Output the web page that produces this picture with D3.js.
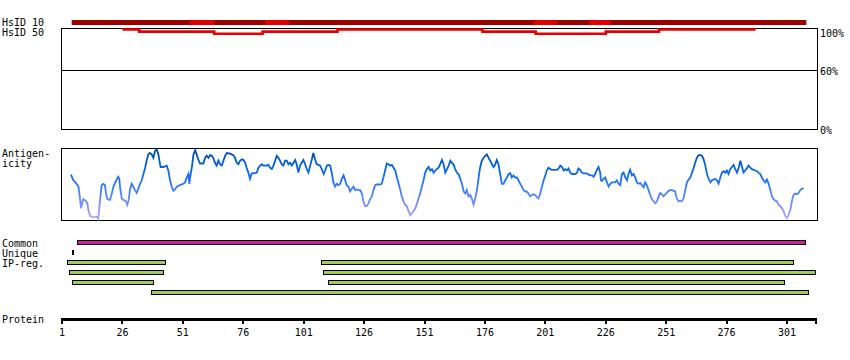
<!DOCTYPE html>
<html><head><meta charset="utf-8">
<script src="https://cdn.jsdelivr.net/npm/d3@7"></script>
<style>
body{margin:0;background:#fff}
svg{display:block}
text{font-family:"DejaVu Sans Mono",monospace;font-size:10px;fill:#000}
</style>
</head><body>
<svg id="chart" width="850" height="360"></svg>
<script>
// ---------------- data ----------------
const proteinLength = 313;
const tickValues = [1, 26, 51, 76, 101, 126, 151, 176, 201, 226, 251, 276, 301];

const hsid10Range = [5, 309];
const hsid10Bright = [[54, 64], [85, 95], [196, 206], [219, 228]];

const hsid50Start = [26, 33, 64, 84, 115, 175, 197, 226, 248];
const hsid50End   = [33, 64, 84, 115, 175, 197, 226, 248, 288];
const hsid50Pct   = [100, 98, 96, 98, 100, 98, 96, 98, 100];

const pctTicks  = [100, 60, 0];
const pctLabels = ["100%", "60%", "0%"];

const antigenRes = [4.7,5.7,6.8,7.8,8.2,8.5,8.9,9.3,9.8,10.7,11.5,11.9,12.6,14.0,15.4,16.0,16.5,17.0,17.4,18.1,18.8,19.2,19.8,20.9,21.6,22.3,22.9,23.6,24.3,24.7,25.0,25.7,26.4,27.5,28.0,28.6,29.1,29.8,30.5,31.2,31.9,32.6,33.3,34.0,34.7,35.4,36.0,36.7,37.4,38.1,38.8,39.5,40.2,40.9,41.3,41.8,42.9,44.3,45.0,45.7,46.4,47.1,47.8,48.5,49.8,51.2,51.9,52.6,53.3,53.7,54.0,54.7,55.1,55.4,56.1,56.7,57.4,58.1,59.5,60.2,60.9,61.6,62.3,63.0,63.6,64.3,65.0,65.7,66.4,67.1,67.8,68.5,69.2,70.5,71.9,72.6,73.3,74.0,74.7,75.4,76.1,76.8,77.4,78.1,78.8,79.5,80.2,81.6,82.3,83.0,83.7,84.3,85.7,86.4,87.1,87.8,88.5,89.2,89.9,90.6,91.2,91.9,92.6,93.3,94.0,94.7,95.4,96.1,96.8,97.5,98.1,98.8,99.5,
100.2,100.9,101.6,102.3,103.0,103.7,104.4,105.0,105.7,106.4,107.1,107.8,108.5,109.3,109.9,110.6,111.3,112.0,112.6,113.3,114.0,114.7,115.4,116.1,116.8,117.5,118.2,118.8,119.5,120.2,120.9,121.6,122.3,123.0,123.7,124.4,125.1,125.7,126.4,127.1,127.8,128.5,129.2,129.9,130.6,131.3,132.6,133.3,134.0,134.7,135.4,136.1,136.8,137.5,138.2,138.9,139.6,140.3,141.0,141.6,142.3,143.0,143.7,144.4,145.1,145.8,146.5,147.2,147.9,148.5,149.2,149.9,150.6,151.3,152.0,152.7,153.4,154.1,154.8,155.4,156.1,156.8,157.5,158.2,158.9,159.6,160.3,161.0,161.7,162.3,163.0,163.7,164.4,165.1,165.8,166.5,167.2,167.9,168.5,169.2,169.9,170.6,171.3,172.0,172.7,173.4,174.0,174.7,175.4,176.1,176.8,177.5,178.2,178.9,179.6,180.2,180.9,181.6,182.3,183.0,183.7,184.4,185.1,185.8,186.5,187.1,187.8,188.5,189.2,189.9,190.6,191.3,192.0,192.7,193.3,194.0,194.7,195.4,196.1,196.8,197.5,198.2,198.9,
199.6,200.3,201.0,201.6,202.3,203.0,203.7,205.1,205.8,206.5,207.2,207.9,208.6,209.3,209.9,210.6,211.3,212.0,213.4,214.1,214.7,215.4,216.1,216.8,218.2,218.9,219.6,220.3,221.0,221.6,222.3,223.0,223.7,224.0,224.4,225.1,225.8,226.5,227.2,227.9,228.5,229.9,230.6,231.3,232.0,232.7,233.4,234.1,234.8,235.4,236.1,236.8,237.5,238.2,238.9,239.6,240.3,241.0,241.7,242.3,243.0,243.7,244.4,245.1,245.8,246.5,247.2,247.9,248.5,249.2,249.9,250.6,251.3,252.0,252.7,253.4,254.1,254.7,255.4,256.1,256.8,257.5,258.2,258.9,259.6,260.3,261.0,261.7,262.4,263.0,263.7,264.4,265.1,265.8,266.5,267.2,267.9,268.6,269.3,269.9,270.6,271.3,272.0,272.7,273.4,274.1,274.8,275.5,276.1,276.8,277.5,278.2,278.9,279.6,280.3,281.0,281.7,282.4,283.0,283.7,284.4,285.1,285.8,286.5,287.2,287.9,288.6,289.2,289.9,290.6,291.3,292.0,292.7,293.4,294.1,294.8,295.4,296.1,296.8,297.5,298.2,298.9,299.6,300.3,301.0,301.7,302.4,303.0,303.7,304.4,305.1,305.8,306.5,307.2,307.9];

const antigenVal = [0.64,0.56,0.52,0.47,0.37,0.28,0.16,0.23,0.29,0.27,0.23,0.14,0.05,0.03,0.04,0.01,0.19,0.37,0.49,0.51,0.49,0.37,0.29,0.28,0.37,0.47,0.52,0.57,0.61,0.58,0.47,0.30,0.28,0.26,0.21,0.28,0.42,0.51,0.47,0.42,0.38,0.44,0.51,0.56,0.65,0.74,0.84,0.93,0.95,0.93,0.88,0.98,1.00,0.93,0.84,0.75,0.75,0.77,0.70,0.56,0.47,0.41,0.43,0.47,0.49,0.51,0.53,0.60,0.65,0.51,0.60,0.74,0.84,0.93,0.99,0.93,0.86,0.80,0.80,0.88,0.91,0.88,0.92,0.91,0.88,0.81,0.77,0.84,0.79,0.77,0.84,0.91,0.95,0.94,0.92,0.88,0.81,0.79,0.84,0.86,0.85,0.81,0.74,0.67,0.58,0.66,0.66,0.67,0.74,0.77,0.79,0.77,0.77,0.78,0.74,0.72,0.77,0.84,0.91,0.88,0.84,0.79,0.77,0.84,0.84,0.79,0.81,0.77,0.81,0.85,0.79,0.67,0.77,
0.81,0.85,0.79,0.72,0.67,0.77,0.86,0.95,0.86,0.79,0.78,0.77,0.72,0.65,0.70,0.77,0.78,0.77,0.67,0.53,0.47,0.51,0.49,0.51,0.58,0.63,0.56,0.49,0.47,0.40,0.44,0.47,0.42,0.43,0.42,0.42,0.37,0.26,0.19,0.19,0.23,0.29,0.33,0.42,0.49,0.50,0.50,0.51,0.60,0.70,0.80,0.79,0.77,0.78,0.74,0.70,0.60,0.51,0.42,0.33,0.26,0.21,0.19,0.12,0.06,0.09,0.12,0.16,0.23,0.30,0.37,0.47,0.56,0.67,0.72,0.75,0.70,0.72,0.67,0.70,0.72,0.74,0.79,0.85,0.79,0.67,0.72,0.77,0.84,0.81,0.79,0.72,0.67,0.65,0.58,0.51,0.40,0.37,0.42,0.33,0.35,0.30,0.21,0.30,0.42,0.60,0.74,0.84,0.88,0.91,0.93,0.88,0.84,0.79,0.75,0.78,0.85,0.79,0.65,0.51,0.51,0.56,0.60,0.65,0.66,0.60,0.63,0.60,0.60,0.56,0.51,0.47,0.42,0.40,0.40,0.37,0.33,0.35,0.36,0.35,0.32,0.30,0.37,
0.47,0.56,0.63,0.70,0.74,0.72,0.71,0.71,0.71,0.73,0.77,0.75,0.70,0.72,0.70,0.73,0.67,0.65,0.65,0.67,0.73,0.71,0.67,0.66,0.66,0.64,0.63,0.63,0.61,0.65,0.71,0.75,0.67,0.56,0.55,0.58,0.60,0.53,0.47,0.51,0.53,0.53,0.56,0.51,0.49,0.65,0.67,0.60,0.56,0.65,0.71,0.63,0.65,0.60,0.53,0.51,0.52,0.49,0.46,0.53,0.49,0.42,0.35,0.29,0.26,0.23,0.26,0.33,0.38,0.36,0.33,0.36,0.38,0.41,0.42,0.42,0.41,0.40,0.30,0.26,0.27,0.26,0.30,0.42,0.53,0.57,0.60,0.67,0.74,0.81,0.88,0.92,0.92,0.91,0.86,0.77,0.65,0.58,0.53,0.56,0.57,0.58,0.56,0.51,0.60,0.67,0.69,0.67,0.70,0.65,0.72,0.75,0.78,0.72,0.67,0.74,0.84,0.75,0.67,0.70,0.73,0.77,0.74,0.72,0.71,0.70,0.69,0.67,0.65,0.60,0.56,0.53,0.57,0.51,0.42,0.33,0.29,0.27,0.26,0.21,0.19,0.16,0.12,0.05,0.02,0.07,0.14,0.26,0.35,0.37,0.36,0.38,0.42,0.44,0.44];

const commonRegions = [[7, 309]];
const uniqueRegions = [[5, 6]];
const ipRegionRows = [
  [[3, 44], [108, 304]],
  [[4, 43], [109, 313]],
  [[5, 39], [111, 300]],
  [[38, 310]]
];

const trackNames = ["Common", "Unique", "IP1", "IP2", "IP3", "IP4"];

// ---------------- scales ----------------
const svg = d3.select("#chart");
const x = d3.scaleLinear().domain([1, 301]).range([62, 787]);
const pct = d3.scaleLinear().domain([0, 60, 100]).range([129.5, 70.5, 28.5]);
const ag = d3.scaleLinear().domain([0, 1]).range([219.5, 149.5]);
const track = d3.scalePoint().domain(trackNames).range([240, 290]);

const boxLeft = 61.5, boxRight = 817.5;

// ---------------- left labels ----------------
const leftLabels = [
  ["HsID 10", 26], ["HsID 50", 36],
  ["Antigen-", 157], ["icity", 167],
  ["Common", 247], ["Unique", 257], ["IP-reg.", 267],
  ["Protein", 323]
];
svg.append("g").selectAll("text").data(leftLabels).join("text")
  .attr("x", 2).attr("y", d => d[1]).text(d => d[0]);

// ---------------- HsID 10 bar ----------------
svg.append("rect")
  .attr("x", x(hsid10Range[0])).attr("y", 20)
  .attr("width", x(hsid10Range[1]) - x(hsid10Range[0])).attr("height", 5)
  .attr("fill", "#990000");
svg.append("g").selectAll("rect").data(hsid10Bright).join("rect")
  .attr("x", d => x(d[0])).attr("y", 20)
  .attr("width", d => x(d[1]) - x(d[0])).attr("height", 5)
  .attr("fill", "#e00000");

// ---------------- percent box ----------------
const pg = svg.append("g").attr("shape-rendering", "crispEdges");
pg.append("rect").attr("x", boxLeft).attr("y", pct(100))
  .attr("width", boxRight - boxLeft).attr("height", pct(0) - pct(100))
  .attr("fill", "none").attr("stroke", "#000");
pg.append("line").attr("x1", boxLeft).attr("x2", boxRight)
  .attr("y1", pct(60)).attr("y2", pct(60)).attr("stroke", "#000");
svg.append("g").selectAll("text").data(pctTicks).join("text")
  .attr("x", 820)
  .attr("y", (d, i) => pct(d) + (d === 100 ? 8 : 4))
  .text((d, i) => pctLabels[i]);

// HsID 50 line
const h50pts = [];
hsid50Start.forEach((s, i) => {
  h50pts.push([s, hsid50Pct[i]]);
  h50pts.push([hsid50End[i], hsid50Pct[i]]);
});
svg.append("path")
  .attr("d", d3.line().x(d => x(d[0])).y(d => pct(d[1]) + 1)(h50pts))
  .attr("fill", "none").attr("stroke", "#e60000").attr("stroke-width", 2.6);

// ---------------- antigenicity ----------------
const defs = svg.append("defs");
const grad = defs.append("linearGradient").attr("id", "agGrad")
  .attr("gradientUnits", "userSpaceOnUse")
  .attr("x1", 0).attr("x2", 0).attr("y1", ag(1)).attr("y2", ag(0));
[[0, "#0048b0"], [0.22, "#0060dc"], [0.42, "#1a70f8"], [0.62, "#4a82ff"], [0.8, "#7f8cff"], [1, "#b4a6ff"]]
  .forEach(s => grad.append("stop").attr("offset", s[0]).attr("stop-color", s[1]));

svg.append("rect").attr("x", boxLeft).attr("y", 148.5)
  .attr("width", boxRight - boxLeft).attr("height", 72)
  .attr("fill", "none").attr("stroke", "#000").attr("shape-rendering", "crispEdges");

const agData = antigenRes.map((r, i) => [r, antigenVal[i]]);
svg.append("path")
  .attr("d", d3.line().x(d => x(d[0])).y(d => ag(d[1]))(agData))
  .attr("fill", "none").attr("stroke", "url(#agGrad)").attr("stroke-width", 1.8)
  .attr("stroke-linejoin", "miter");

// ---------------- feature tracks ----------------
function drawBars(regions, row, fill) {
  svg.append("g").attr("shape-rendering", "crispEdges").selectAll("rect").data(regions).join("rect")
    .attr("x", d => x(d[0]) + 0.5).attr("y", track(row) + 0.5)
    .attr("width", d => Math.max(1, x(d[1]) - x(d[0]) - 1)).attr("height", 4)
    .attr("fill", fill).attr("stroke", "#000").attr("stroke-width", 1);
}
drawBars(commonRegions, "Common", "#cc22a0");
drawBars(uniqueRegions, "Unique", "#ffffff");
ipRegionRows.forEach((rowRegions, i) => drawBars(rowRegions, "IP" + (i + 1), "#a0cc58"));

// ---------------- protein axis ----------------
const ax = svg.append("g").attr("shape-rendering", "crispEdges");
ax.append("rect").attr("x", x(1) - 1).attr("y", 318)
  .attr("width", x(proteinLength) - x(1) + 2).attr("height", 3).attr("fill", "#000");
ax.selectAll("rect.tick").data(tickValues.concat([proteinLength])).join("rect")
  .attr("class", "tick")
  .attr("x", d => Math.round(x(d)) - 1).attr("y", 318)
  .attr("width", 2).attr("height", 6).attr("fill", "#000");
svg.append("g").selectAll("text").data(tickValues).join("text")
  .attr("x", d => x(d)).attr("y", 335.5).attr("text-anchor", "middle")
  .text(d => d);
</script>
</body></html>
